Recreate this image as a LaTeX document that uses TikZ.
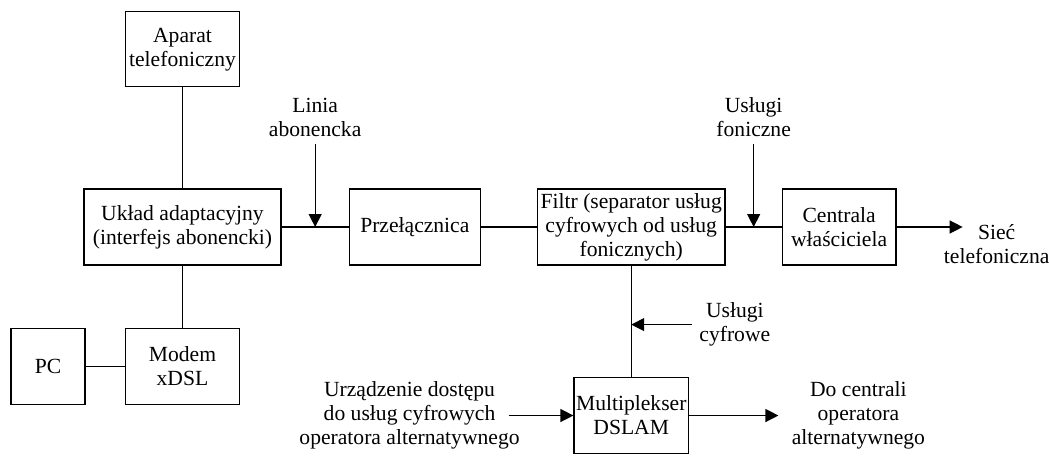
\documentclass[tikz,border=0pt]{standalone}
\usepackage{fontspec}
\setmainfont{Liberation Serif}
\usetikzlibrary{calc}
\usetikzlibrary{positioning,arrows.meta}
\tikzset{
    blok/.style={
        draw, line width=0.65pt, align=center,
        minimum height=1.34cm, inner sep=1pt
    },
    opis/.style={align=center}
}

\begin{document}
\begin{tikzpicture}[
    font=\fontsize{10.8}{12}\selectfont,
    line width=0.65pt,
    >={Triangle[length=6.5pt,width=6.5pt]}
]
\useasboundingbox (-91.25pt,-114pt) rectangle (433.25pt,113.5pt);

% ===============================================================
% ==== Strona abonenta ====
% ===============================================================
\node[blok, minimum width=3.46cm] (uklad) {Układ adaptacyjny\\(interfejs abonencki)};
\node[blok, minimum width=2cm, minimum height=1.32cm, above=1.77cm of uklad] (aparat) {Aparat\\telefoniczny};
\node[blok, minimum width=2cm, below=1.09cm of uklad] (modem) {Modem\\xDSL};
\node[blok, minimum width=1.3cm, left=0.69cm of modem] (pc) {PC};

\draw (aparat) -- (uklad);
\draw (uklad) -- (modem);
\draw (pc) -- (modem);

% ===============================================================
% ==== Tor glowny ====
% ===============================================================
\node[blok, minimum width=2.3cm, right=1.18cm of uklad] (przel) {Przełącznica};
\node[blok, minimum width=3.3cm, right=0.98cm of przel] (filtr) {Filtr (separator usług\\cyfrowych od usług\\fonicznych)};
\node[blok, minimum width=2cm, right=0.98cm of filtr] (centrala) {Centrala\\właściciela};

\draw (uklad) -- (przel);
\draw (przel) -- (filtr);
\draw (filtr) -- (centrala);

% Linia abonencka
\coordinate (wej) at ($(uklad.east)!0.5!(przel.west)$);
\node[opis, above=1.46cm of wej] (linia) {Linia\\abonencka};
\draw[->] (linia) -- (wej);

% Uslugi foniczne
\coordinate (fon) at ($(filtr.east)!0.5!(centrala.west)$);
\node[opis, above=1.46cm of fon] (foniczne) {Usługi\\foniczne};
\draw[->] (foniczne) -- (fon);

% Siec telefoniczna
\coordinate[right=1.16cm of centrala] (wyj1);
\node[opis] (siec) at ([xshift=17pt, yshift=-8.5pt]wyj1) {Sieć\\telefoniczna};
\draw[->] (centrala) -- (wyj1);

% ===============================================================
% ==== Multiplekser ====
% ===============================================================
\node[blok, minimum width=2cm, below=1.95cm of filtr] (mux) {Multiplekser\\DSLAM};
\draw (filtr) -- (mux);

% Uslugi cyfrowe
\coordinate (cyf) at ($(filtr.south)!0.53!(mux.north)$);
\node[opis, right=1.07cm of cyf] (cyfrowe) {Usługi\\cyfrowe};
\draw[->] (cyfrowe) -- (cyf);

% wejscie operatora alternatywnego
\coordinate[left=1.14cm of mux] (wej2);
\node[opis] (urz) at ([xshift=-49.5pt]wej2) {Urządzenie dostępu\\do usług cyfrowych\\operatora alternatywnego};
\draw[->] (wej2) -- (mux);

% wyjscie do centrali
\coordinate[right=1.57cm of mux] (wyj2);
\node[opis] (docent) at ([xshift=40pt]wyj2) {Do centrali\\operatora\\alternatywnego};
\draw[->] (mux) -- (wyj2);

\end{tikzpicture}
\end{document}
